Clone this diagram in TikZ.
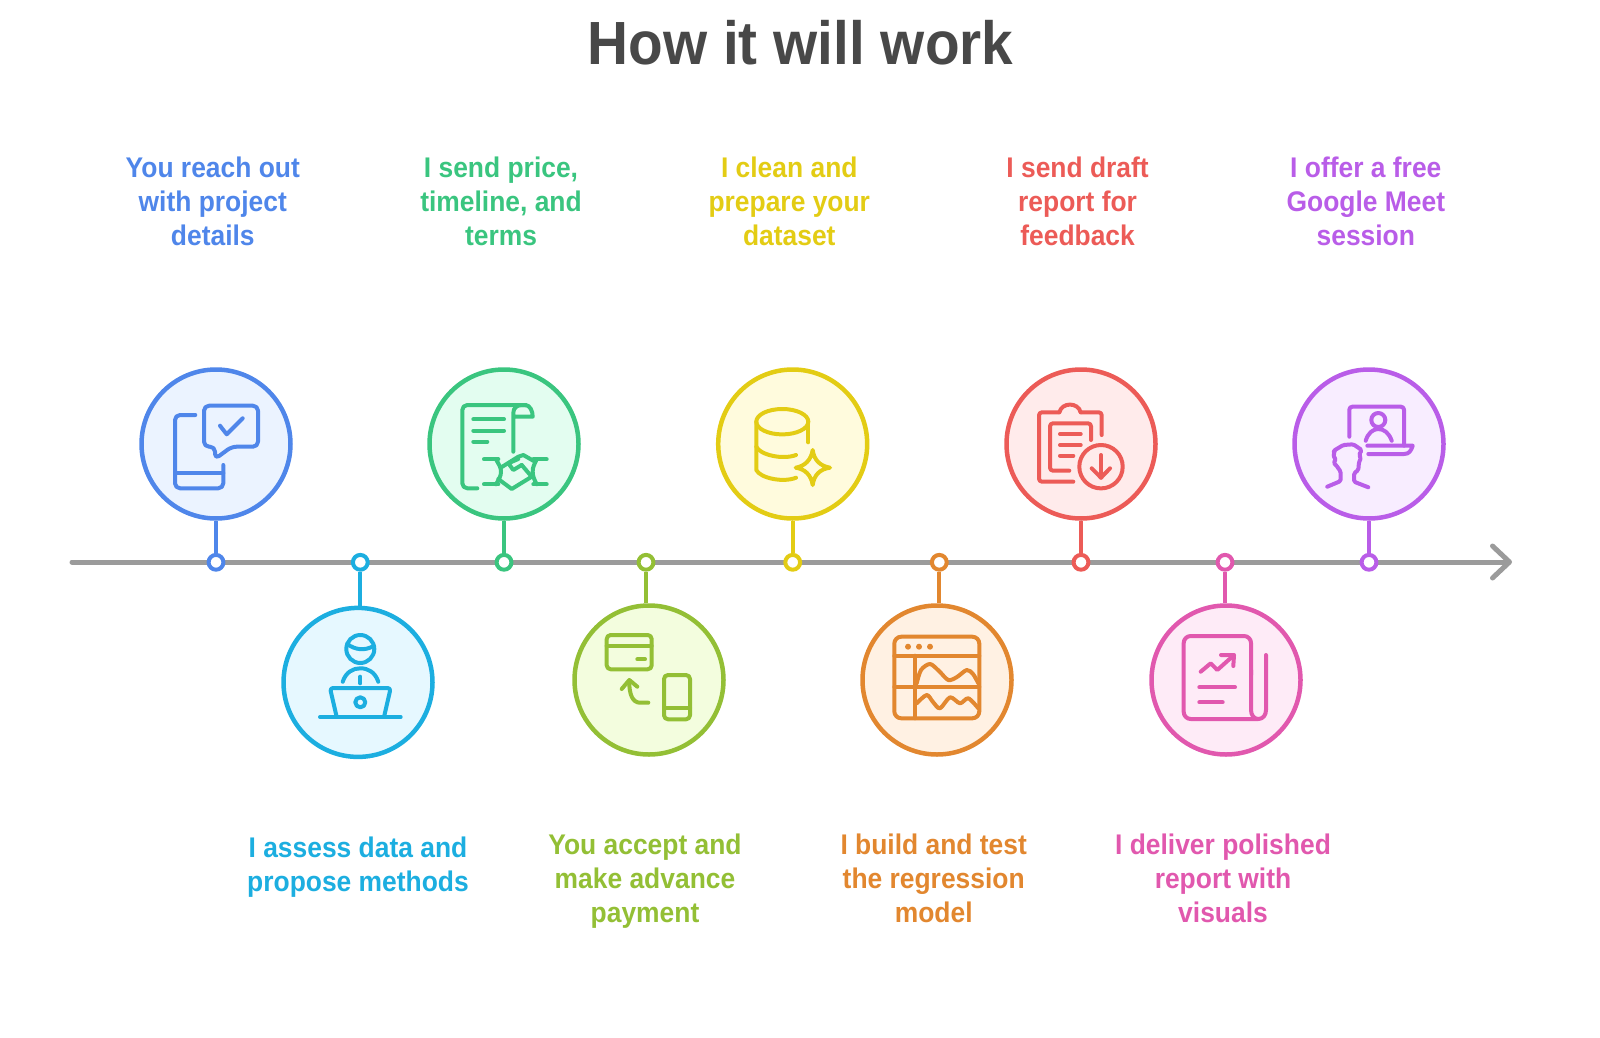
\documentclass[tikz,border=0pt]{standalone}
\usepackage{fontspec}
\setmainfont{Liberation Sans}[FakeStretch=0.93]
\usetikzlibrary{arrows.meta}
\definecolor{bluea}{HTML}{4F86EA}\definecolor{blueb}{HTML}{EBF3FF}
\definecolor{cyana}{HTML}{1CAEE0}\definecolor{cyanb}{HTML}{E6F8FF}
\definecolor{greena}{HTML}{3AC57F}\definecolor{greenb}{HTML}{E3FDF0}
\definecolor{olivea}{HTML}{93BF35}\definecolor{oliveb}{HTML}{F3FDDE}
\definecolor{yellowa}{HTML}{E3CC14}\definecolor{yellowb}{HTML}{FFFBDD}
\definecolor{orangea}{HTML}{E2872F}\definecolor{orangeb}{HTML}{FFF1E3}
\definecolor{reda}{HTML}{EC5B57}\definecolor{redb}{HTML}{FFEBEB}
\definecolor{pinka}{HTML}{E158AE}\definecolor{pinkb}{HTML}{FEEBF7}
\definecolor{purplea}{HTML}{B95DE8}\definecolor{purpleb}{HTML}{F8EDFF}
\definecolor{titlegray}{HTML}{484848}
\definecolor{axisgray}{HTML}{9B9B9B}
\tikzstyle{bigcircle}=[circle, draw, inner sep=0pt, minimum size=149pt, line width=4.5pt]
\tikzstyle{smalldot}=[circle, draw, fill=white, inner sep=0pt, minimum size=14.8pt, line width=4pt]
\tikzstyle{steptext}=[anchor=base, align=center, inner sep=0pt, font=\fontsize{28.4}{33.7}\selectfont\bfseries]
\tikzstyle{stem}=[line width=4.2pt]
\tikzstyle{icon}=[line width=4pt, line cap=round, line join=round]

\begin{document}
\begin{tikzpicture}[x=1pt,y=-1pt]
      \useasboundingbox (0,0) rectangle (1600,1038);
      \node[anchor=base, inner sep=0pt, text=titlegray, font=\fontsize{61}{61}\selectfont\bfseries] (title) at (800.5,64.5) {How it will work};

      \coordinate (axisstart) at (72,562);
      \coordinate (axisend) at (1512,562);
      \draw[axisgray, line width=5pt, line cap=round, -{Straight Barb[length=17pt,width=32pt,round]}] (axisstart)--(axisend);

      \node[bigcircle, draw=bluea, fill=blueb] (reach) at (216,444) {};
      \node[bigcircle, draw=cyana, fill=cyanb] (assess) at (358,682.4) {};
      \node[bigcircle, draw=greena, fill=greenb] (send) at (504,444) {};
      \node[bigcircle, draw=olivea, fill=oliveb] (accept) at (649,680) {};
      \node[bigcircle, draw=yellowa, fill=yellowb] (clean) at (792.7,444) {};
      \node[bigcircle, draw=orangea, fill=orangeb] (build) at (937,680) {};
      \node[bigcircle, draw=reda, fill=redb] (draft) at (1081,444) {};
      \node[bigcircle, draw=pinka, fill=pinkb] (deliver) at (1226,680) {};
      \node[bigcircle, draw=purplea, fill=purpleb] (offer) at (1369,444) {};

      \node[smalldot, draw=bluea] (reachdot) at (216,562.3) {};
      \node[smalldot, draw=cyana] (assessdot) at (360.3,562.3) {};
      \node[smalldot, draw=greena] (senddot) at (504,562.3) {};
      \node[smalldot, draw=olivea] (acceptdot) at (646,562.3) {};
      \node[smalldot, draw=yellowa] (cleandot) at (792.7,562.3) {};
      \node[smalldot, draw=orangea] (builddot) at (939.3,562.3) {};
      \node[smalldot, draw=reda] (draftdot) at (1081,562.3) {};
      \node[smalldot, draw=pinka] (deliverdot) at (1225,562.3) {};
      \node[smalldot, draw=purplea] (offerdot) at (1369,562.3) {};

      \draw[stem, bluea] (reach)--(reachdot);
      \draw[stem, cyana] (assessdot.south)--(assessdot.south|-assess.north);
      \draw[stem, greena] (send)--(senddot);
      \draw[stem, olivea] (acceptdot.south)--(acceptdot.south|-accept.north);
      \draw[stem, yellowa] (clean)--(cleandot);
      \draw[stem, orangea] (builddot.south)--(builddot.south|-build.north);
      \draw[stem, reda] (draft)--(draftdot);
      \draw[stem, pinka] (deliverdot.south)--(deliverdot.south|-deliver.north);
      \draw[stem, purplea] (offer)--(offerdot);

      \node[steptext, text=bluea] (reachtext) at (212.8,245) {You reach out\\with project\\details};
      \node[steptext, text=cyana] (assesstext) at (358,891) {I assess data and\\propose methods};
      \node[steptext, text=greena] (sendtext) at (501,245) {I send price,\\timeline, and\\terms};
      \node[steptext, text=olivea] (accepttext) at (645,922) {You accept and\\make advance\\payment};
      \node[steptext, text=yellowa] (cleantext) at (789.3,245) {I clean and\\prepare your\\dataset};
      \node[steptext, text=orangea] (buildtext) at (933.7,922) {I build and test\\the regression\\model};
      \node[steptext, text=reda] (drafttext) at (1077.6,245) {I send draft\\report for\\feedback};
      \node[steptext, text=pinka] (delivertext) at (1223,922) {I deliver polished\\report with\\visuals};
      \node[steptext, text=purplea] (offertext) at (1365.8,245) {I offer a free\\Google Meet\\session};

      \begin{scope}[icon, color=bluea]
      \draw[rounded corners=5pt] (195.3,415)--(175,415)--(175,488.3)--(223.3,488.3)--(223.3,465);
      \draw (175,473.3)--(223.3,473.3);
      \draw[rounded corners=5pt] (231.7,446.7)--(215,459)--(215,446.7)--(204,446.7)--(204,405.7)--(258,405.7)--(258,446.7)--cycle;
      \draw (220,425.7)--(226.7,434.3)--(242.7,418.3);
      \end{scope}

      \begin{scope}[icon, color=cyana]
      \draw (360.3,649) circle (14);
      \draw (347.3,644) .. controls (355,650) and (365,651) .. (373.5,646);
      \draw (342.7,681.7) .. controls (346,672) and (353,668.3) .. (360.3,668.3) .. controls (368,668.3) and (375,672) .. (378.3,681.7);
      \draw (360.3,676.7)--(360.3,683.3);
      \draw[rounded corners=3pt] (336.7,717)--(330,688)--(390.7,688)--(384,717);
      \draw (320,717)--(400.7,717);
      \draw (360.3,702.3) circle (5);
      \end{scope}

      \begin{scope}[icon, color=greena]
      \draw[rounded corners=5pt] (477.3,488.3)--(462.3,488.3)--(462.3,405)--(526,405);
      \draw (513.3,451.7)--(513.3,413) .. controls (513.3,408) and (517,405) .. (521.7,405)--(525,405) .. controls (530,405) and (532.7,411) .. (532.7,416.7)--(513.3,416.7);
      \draw (473.3,419.3)--(504,419.3);
      \draw (473.3,430.7)--(504,430.7);
      \draw (473.3,441.7)--(487.3,441.7);
      \draw (484,459.3)--(498.3,459.3);
      \draw (484,484.3)--(498.3,484.3);
      \draw (533.3,459.3)--(546.7,459.3);
      \draw (533.3,484.3)--(546.7,484.3);
      \draw (496,459.3) .. controls (499,465) and (501,467) .. (501,471.7) .. controls (501,476) and (499,479) .. (496,484.3);
      \draw (536.7,459.3) .. controls (534,465) and (532.7,467) .. (532.7,471.7) .. controls (532.7,476) and (534,479) .. (536.7,484.3);
      \draw (500.7,467.7)--(518.3,456.7)--(523.3,455)--(535,461.7);
      \draw (498.3,479)--(511.7,489)--(531.7,476.7)--(521.7,465);
      \draw (518.3,459)--(508.3,463.3)--(513.3,470)--(521.7,465);
      \end{scope}

      \begin{scope}[icon, color=olivea]
      \draw[rounded corners=4pt] (606.7,635) rectangle (651.7,669.3);
      \draw (606.7,645.7)--(651.7,645.7);
      \draw (637.3,659.3)--(645,659.3);
      \draw (648.3,702.7)--(640,702.7) .. controls (633,702.7) and (629,695) .. (629.3,681);
      \draw (621.7,689)--(629.3,680)--(637.3,686.7);
      \draw[rounded corners=4pt] (664,675) rectangle (690,719.3);
      \draw (664,707.7)--(690,707.7);
      \end{scope}

      \begin{scope}[icon, color=yellowa]
      \draw (782.3,421.7) ellipse (26 and 12.7);
      \draw (808.3,421.7)--(808.3,442.3);
      \draw (756.3,421.7)--(756.3,470) .. controls (760,478) and (783,483) .. (796,477.7);
      \draw (756.3,446.7) .. controls (760,455) and (783,460) .. (796,455);
      \draw (812.7,450) .. controls (814,460) and (820,466) .. (830,467.7) .. controls (820,469) and (814,475) .. (812.7,485) .. controls (811,475) and (805,469) .. (795.7,467.7) .. controls (805,466) and (811,460) .. (812.7,450)--cycle;
      \end{scope}

      \begin{scope}[icon, color=orangea]
      \draw[rounded corners=7pt] (894.3,636.7) rectangle (979.3,718.3);
      \draw (894.3,655.7)--(979.3,655.7);
      \draw (915,655.7)--(915,718.3);
      \draw (894.3,686.7)--(979.3,686.7);
      \fill (908,646.7) circle (3);
      \fill (919,646.7) circle (3);
      \fill (930,646.7) circle (3);
      \draw plot[smooth] coordinates {(916.7,683.3) (921,670) (930,664) (939,671) (948.3,680) (957,677) (966.7,670) (973,674) (978.3,683.3)};
      \draw plot[smooth] coordinates {(916.7,703.3) (926.7,695) (933,702) (940,708.3) (950,697.3) (960,703.3) (968.3,698.3) (978.3,708.3)};
      \end{scope}

      \begin{scope}[icon, color=reda]
      \draw[rounded corners=3pt] (1073.3,481.7)--(1039,481.7)--(1039,412.3)--(1059.3,412.3);
      \draw (1059.3,412.3) .. controls (1062,402) and (1078,402) .. (1080.7,412.3);
      \draw[rounded corners=3pt] (1080.7,412.3)--(1101.7,412.3)--(1101.7,435);
      \draw[rounded corners=3pt] (1069.3,470.7)--(1050,470.7)--(1050,423.3)--(1091,423.3)--(1091,440);
      \draw (1060,434)--(1080.7,434);
      \draw (1060,445)--(1080.7,445);
      \draw (1060,455.7)--(1073.3,455.7);
      \draw (1101,466.7) circle (21.7);
      \draw (1101,455)--(1101,477.7);
      \draw (1091.7,468.3)--(1101,477.7)--(1110,468.3);
      \end{scope}

      \begin{scope}[icon, color=pinka]
      \draw[rounded corners=7pt] (1258.3,719)--(1183.7,719)--(1183.7,636)--(1251,636)--(1251,675);
      \draw (1251,670)--(1251,710) .. controls (1251,715) and (1254,719) .. (1258.3,719) .. controls (1263,719) and (1266,715) .. (1266,710)--(1266,655);
      \draw (1200.7,671.7)--(1210.7,663.3)--(1217.3,670)--(1233.3,655.7);
      \draw (1221,655)--(1234,655)--(1233.3,666);
      \draw (1199.3,687.3)--(1235,687.3);
      \draw (1199.3,702.3)--(1222.7,702.3);
      \end{scope}

      \begin{scope}[icon, color=purplea]
      \draw[rounded corners=3pt] (1349.3,436.7)--(1349.3,406.7)--(1404,406.7)--(1404,445.7);
      \draw (1367.3,445.7)--(1412.7,445.7) .. controls (1411,451) and (1409,454) .. (1404,454)--(1368.3,454);
      \draw (1378.3,420) circle (7);
      \draw (1365.7,440.7) .. controls (1368,433) and (1373,429) .. (1378.3,429) .. controls (1384,429) and (1389,433) .. (1391.7,440.7);
      \draw[rounded corners=1.5pt] (1327.3,486.7)--(1340.7,481)--(1340.7,471.7)--(1336,465)--(1333.5,463)--(1336,459)--(1333,456)--(1335,452)--(1333.3,451)--(1343.3,445)--(1353.3,444.3)--(1361.7,450)--(1359,455)--(1361,458)--(1359,462)--(1358.3,470)--(1354,473.3)--(1354,481.7)--(1368.3,487.3);
      \end{scope}
      \end{tikzpicture}
\end{document}
